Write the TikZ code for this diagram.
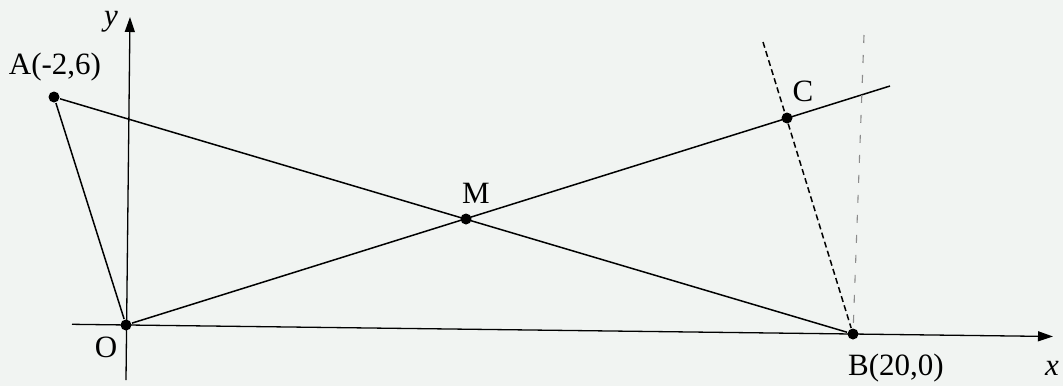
\documentclass[tikz,border=0pt]{standalone}
\usepackage{fontspec}
\newfontfamily\labelfont{Liberation Serif}
\usetikzlibrary{arrows.meta}
\definecolor{bg}{RGB}{241,244,242}
\begin{document}
\begin{tikzpicture}[x=1pt,y=-1pt,line width=1.5pt,
  dot/.style={circle,fill=black,inner sep=0pt,minimum size=11pt},
  lbl/.style={font=\labelfont\fontsize{31}{36}\selectfont,inner sep=0pt},
  ilbl/.style={font=\labelfont\itshape\fontsize{31}{36}\selectfont,inner sep=0pt},
  axis/.style={line width=1.3pt,-{Triangle[length=15pt,width=10pt]}},
  dashline/.style={dash pattern=on 6pt off 3.5pt},
  grayline/.style={line width=1.1pt,black!45,dash pattern=on 8pt off 12pt}]
\fill[bg] (0,0) rectangle (1063,386);
\useasboundingbox (0,0) rectangle (1063,386);
% axes
\coordinate (xs) at (72,324.3);
\coordinate (xe) at (1053,336.5);
\coordinate (ys) at (126,380);
\coordinate (ye) at (130,17);
\draw[axis] (xs) -- (xe);
\draw[axis] (ys) -- (ye);
% points
\node[dot] (O) at (126,325) {};
\node[dot] (A) at (54,97) {};
\node[dot] (B) at (853,334) {};
\node[dot] (C) at (787,118) {};
\node[dot] (M) at (466,219) {};
\coordinate (Cend) at (890,86);
\coordinate (Dtop) at (763,42);
\coordinate (Gtop) at (864,35);
% lines
\draw (A) -- (O);
\draw (A) -- (B);
\draw (O) -- (Cend);
\draw[dashline] (Dtop) -- (B);
\draw[grayline] (Gtop) -- (B);
% labels
\node[lbl] (lA) at (55,67) {A(-2,6)};
\node[lbl] (lO) at (106,347) {O};
\node[lbl] (lM) at (476,193) {M};
\node[lbl] (lC) at (803,91) {C};
\node[lbl] (lB) at (896,368) {B(20,0)};
\node[ilbl] (lx) at (1052,368) {x};
\node[ilbl] (ly) at (111,22) {y};
\end{tikzpicture}
\end{document}
